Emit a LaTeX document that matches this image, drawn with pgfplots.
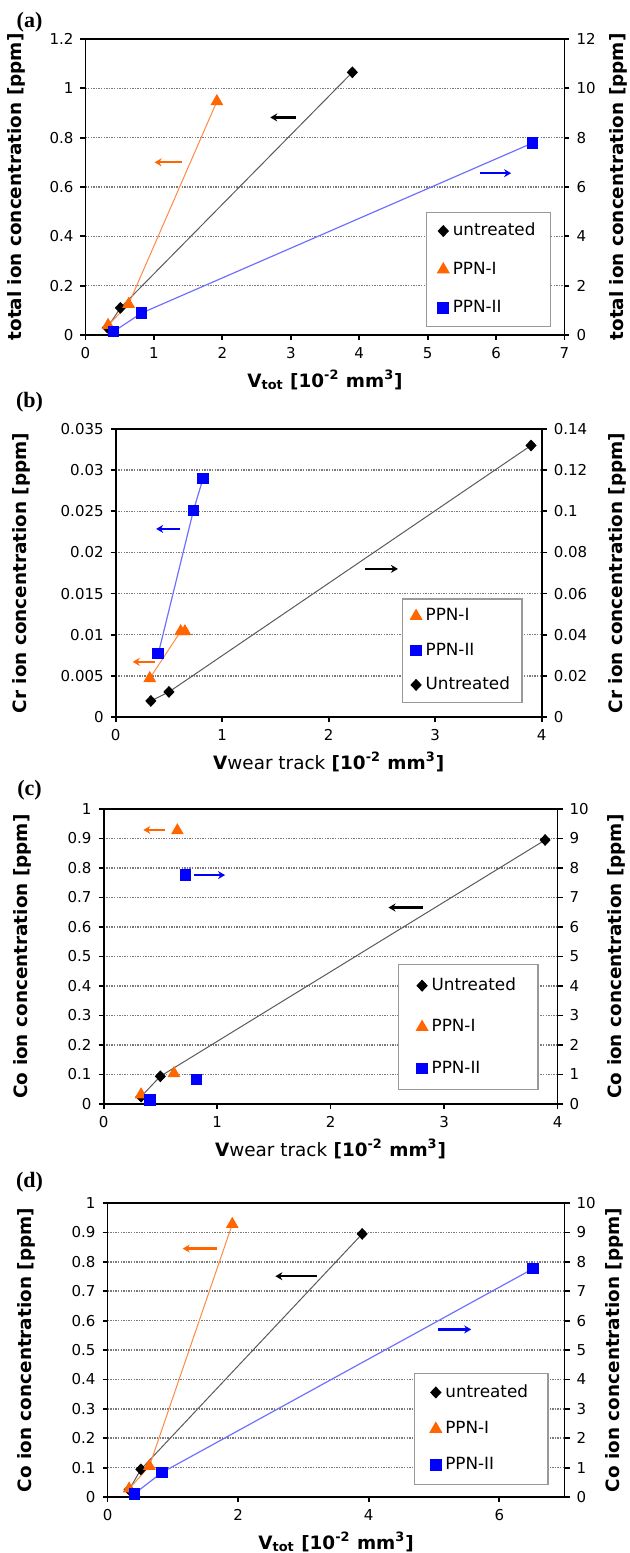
\documentclass[border=0pt]{standalone}
\usepackage{fontspec}
\setmainfont{DejaVu Sans}
\newfontfamily\serifb{Liberation Serif}
\usepackage{pgfplots}
\pgfplotsset{compat=1.18}
\usetikzlibrary{arrows.meta}

\definecolor{cOr}{HTML}{FF6600}
\definecolor{cOrL}{HTML}{FF8A45}
\definecolor{cBl}{HTML}{0000FF}
\definecolor{cBlL}{HTML}{7070FF}
\definecolor{cBk}{HTML}{000000}
\definecolor{cBkL}{HTML}{5A5A5A}
\definecolor{cGrid}{HTML}{7A7A7A}

\newcommand{\lblfont}{\fontsize{9.2}{10}\selectfont\bfseries}
\tikzset{arr/.style={line width=1.1pt, -{Stealth[length=3.5pt,width=4pt]}}}

\pgfplotsset{
  base/.style={
    scale only axis, anchor=north west,
    tick align=outside, major tick length=2.5pt,
    axis line style={line width=0.9pt},
    every tick/.style={line width=0.9pt, black},
    tick label style={font=\fontsize{7.5}{8}\selectfont},
    /pgf/number format/assume math mode=true,
    scaled y ticks=false, scaled x ticks=false,
    every axis x label/.style={at={(axis description cs:0.5,0)}, anchor=center, yshift=-22.5pt, font=\lblfont},
    clip=false,
    legend image code/.code={\draw[##1] plot coordinates {(0pt,0pt)};},
    legend cell align=left,
  },
  yl/.style={every axis y label/.style={at={(axis description cs:#1,0.5)}, rotate=90, anchor=center, font=\lblfont}},
  lefta/.style={base, xtick pos=bottom, ytick pos=left, ymajorgrids,
    grid style={cGrid, line width=0.75pt, dash pattern=on 0.7pt off 0.6pt}},
  righta/.style={base, axis x line=none, axis y line*=right, ytick pos=right},
  lg/.style={legend style={draw=gray!80, line width=0.6pt, font=\fontsize{8.4}{9}\selectfont,
    inner xsep=6pt, inner ysep=3.5pt}},
  unt/.style={cBkL, line width=0.5pt, mark=diamond*, mark options={cBk, fill=cBk, solid, mark size=2.6pt, xscale=1.25}},
  ppn1/.style={cOrL, line width=0.5pt, mark=triangle*, mark options={cOr, fill=cOr, solid, mark size=3.2pt}},
  ppn2/.style={cBlL, line width=0.6pt, mark=square*, mark options={cBl, fill=cBl, solid, mark size=2.6pt}},
  Lunt/.style={only marks, mark=diamond*, cBk, mark size=2.6pt, mark options={xscale=1.25}},
  Lppn1/.style={only marks, mark=triangle*, cOr, mark size=3.2pt},
  Lppn2/.style={only marks, mark=square*, cBl, mark size=2.6pt},
}

\begin{document}
\begin{tikzpicture}
\path[use as bounding box] (0pt,0pt) rectangle (315pt,-776.5pt);

% ---------------- (a) ----------------
\node[font=\serifb\bfseries\fontsize{11}{12}\selectfont] at (14.75pt,-11pt) {(a)};
\begin{axis}[lefta, yl=-0.145, at={(42.75pt,-19.5pt)}, width=239.5pt, height=148pt,
  xmin=0, xmax=7, ymin=0, ymax=1.2, xtick={0,1,...,7},
  ytick={0,0.2,0.4,0.6,0.8,1,1.2}, yticklabels={0,0.2,0.4,0.6,0.8,1,1.2},
  xlabel={V\textsubscript{tot} [10\textsuperscript{-2} mm\textsuperscript{3}]},
  ylabel={total ion concentration [ppm]}]
\addplot[unt, forget plot] coordinates {(0.32,0.03) (0.51,0.11) (3.9,1.065)};
\addplot[ppn1, forget plot] coordinates {(0.33,0.04) (0.63,0.125) (1.92,0.947)};
\draw[arr, cBk] (axis cs:3.08,0.882) -- (axis cs:2.70,0.882);
\draw[arr, cOr] (axis cs:1.41,0.70) -- (axis cs:1.01,0.70);
\draw[arr, cBl] (axis cs:5.77,0.656) -- (axis cs:6.22,0.656);
\end{axis}
\begin{axis}[righta, lg, yl=1.112, at={(42.75pt,-19.5pt)}, width=239.5pt, height=148pt,
  xmin=0, xmax=7, ymin=0, ymax=12, ytick={0,2,...,12},
  ylabel={total ion concentration [ppm]},
  legend style={at={(0.972,0.027)}, anchor=south east, row sep=7.5pt, inner ysep=3.5pt, inner xsep=5.5pt}]
\addplot[ppn2, forget plot] coordinates {(0.41,0.14) (0.82,0.89) (6.53,7.78)};
\addlegendimage{Lunt}
\addlegendentry{untreated}
\addlegendimage{Lppn1}
\addlegendentry{PPN-I}
\addlegendimage{Lppn2}
\addlegendentry{PPN-II}
\end{axis}

% ---------------- (b) ----------------
\node[font=\serifb\bfseries\fontsize{11}{12}\selectfont] at (14.75pt,-201pt) {(b)};
\begin{axis}[lefta, yl=-0.222, at={(57.85pt,-214.5pt)}, width=213pt, height=144pt,
  xmin=0, xmax=4, ymin=0, ymax=0.035, xtick={0,1,...,4},
  ytick={0,0.005,0.01,0.015,0.02,0.025,0.03,0.035},
  yticklabels={0,0.005,0.01,0.015,0.02,0.025,0.03,0.035},
  xlabel={V{\mdseries wear track} [10\textsuperscript{-2} mm\textsuperscript{3}]},
  ylabel={Cr ion concentration [ppm]}]
\addplot[ppn1, forget plot] coordinates {(0.32,0.0047) (0.61,0.0104) (0.65,0.0104)};
\addplot[ppn2, forget plot] coordinates {(0.40,0.0077) (0.73,0.0251) (0.82,0.029)};
\draw[arr, cBl] (axis cs:0.60,0.02286) -- (axis cs:0.38,0.02286);
\draw[arr, cBk] (axis cs:2.34,0.018) -- (axis cs:2.65,0.018);
\draw[arr, cOr] (axis cs:0.365,0.0067) -- (axis cs:0.16,0.0067);
\end{axis}
\begin{axis}[righta, lg, yl=1.178, at={(57.85pt,-214.5pt)}, width=213pt, height=144pt,
  xmin=0, xmax=4, ymin=0, ymax=0.14,
  ytick={0,0.02,0.04,0.06,0.08,0.1,0.12,0.14},
  yticklabels={0,0.02,0.04,0.06,0.08,0.1,0.12,0.14},
  ylabel={Cr ion concentration [ppm]},
  legend style={at={(0.955,0.049)}, anchor=south east, row sep=5.5pt, inner ysep=2.75pt, inner xsep=4pt}]
\addplot[unt, forget plot] coordinates {(0.33,0.0078) (0.50,0.0122) (3.9,0.132)};
\addlegendimage{Lppn1}
\addlegendentry{PPN-I}
\addlegendimage{Lppn2}
\addlegendentry{PPN-II}
\addlegendimage{Lunt}
\addlegendentry{Untreated}
\end{axis}

% ---------------- (c) ----------------
\node[font=\serifb\bfseries\fontsize{11}{12}\selectfont] at (14.75pt,-395pt) {(c)};
\begin{axis}[lefta, yl=-0.178, at={(51.8pt,-404.5pt)}, width=227pt, height=147.5pt,
  xmin=0, xmax=4, ymin=0, ymax=1, xtick={0,1,...,4},
  ytick={0,0.1,...,1.0}, yticklabels={0,0.1,0.2,0.3,0.4,0.5,0.6,0.7,0.8,0.9,1},
  xlabel={V{\mdseries wear track} [10\textsuperscript{-2} mm\textsuperscript{3}]},
  ylabel={Co ion concentration [ppm]}]
\addplot[unt, forget plot] coordinates {(0.33,0.025) (0.50,0.094) (3.89,0.895)};
\addplot[ppn1, only marks, forget plot] coordinates {(0.33,0.032) (0.62,0.104) (0.65,0.927)};
\draw[arr, cOr] (axis cs:0.545,0.929) -- (axis cs:0.35,0.929);
\draw[arr, cBl] (axis cs:0.80,0.776) -- (axis cs:1.07,0.776);
\draw[arr, cBk] (axis cs:2.81,0.666) -- (axis cs:2.51,0.666);
\end{axis}
\begin{axis}[righta, lg, yl=1.130, at={(51.8pt,-404.5pt)}, width=227pt, height=147.5pt,
  xmin=0, xmax=4, ymin=0, ymax=10, ytick={0,1,...,10},
  ylabel={Co ion concentration [ppm]},
  legend style={at={(0.958,0.047)}, anchor=south east, row sep=9pt, inner ysep=4.75pt, inner xsep=9pt}]
\addplot[ppn2, only marks, forget plot] coordinates {(0.41,0.13) (0.82,0.83) (0.72,7.76)};
\addlegendimage{Lunt}
\addlegendentry{Untreated}
\addlegendimage{Lppn1}
\addlegendentry{PPN-I}
\addlegendimage{Lppn2}
\addlegendentry{PPN-II}
\end{axis}

% ---------------- (d) ----------------
\node[font=\serifb\bfseries\fontsize{11}{12}\selectfont] at (14.75pt,-591pt) {(d)};
\begin{axis}[lefta, yl=-0.177, at={(53.8pt,-601.5pt)}, width=228.5pt, height=147pt,
  xmin=0, xmax=7, ymin=0, ymax=1, xtick={0,2,4,6},
  ytick={0,0.1,...,1.0}, yticklabels={0,0.1,0.2,0.3,0.4,0.5,0.6,0.7,0.8,0.9,1},
  xlabel={V\textsubscript{tot} [10\textsuperscript{-2} mm\textsuperscript{3}]},
  ylabel={Co ion concentration [ppm]}]
\addplot[unt, forget plot] coordinates {(0.33,0.025) (0.51,0.094) (3.9,0.895)};
\addplot[ppn1, forget plot] coordinates {(0.33,0.028) (0.64,0.105) (1.91,0.928)};
\draw[arr, cOr] (axis cs:1.67,0.845) -- (axis cs:1.15,0.845);
\draw[arr, cBk] (axis cs:3.2,0.751) -- (axis cs:2.57,0.751);
\draw[arr, cBl] (axis cs:5.06,0.57) -- (axis cs:5.57,0.57);
\end{axis}
\begin{axis}[righta, lg, yl=1.110, at={(53.8pt,-601.5pt)}, width=228.5pt, height=147pt,
  xmin=0, xmax=7, ymin=0, ymax=10, ytick={0,1,...,10},
  ylabel={Co ion concentration [ppm]},
  legend style={at={(0.965,0.041)}, anchor=south east, row sep=6.5pt, inner ysep=3.75pt, inner xsep=8pt}]
\addplot[ppn2, forget plot] coordinates {(0.41,0.11) (0.83,0.83) (6.52,7.77)};
\addlegendimage{Lunt}
\addlegendentry{untreated}
\addlegendimage{Lppn1}
\addlegendentry{PPN-I}
\addlegendimage{Lppn2}
\addlegendentry{PPN-II}
\end{axis}
\end{tikzpicture}
\end{document}
